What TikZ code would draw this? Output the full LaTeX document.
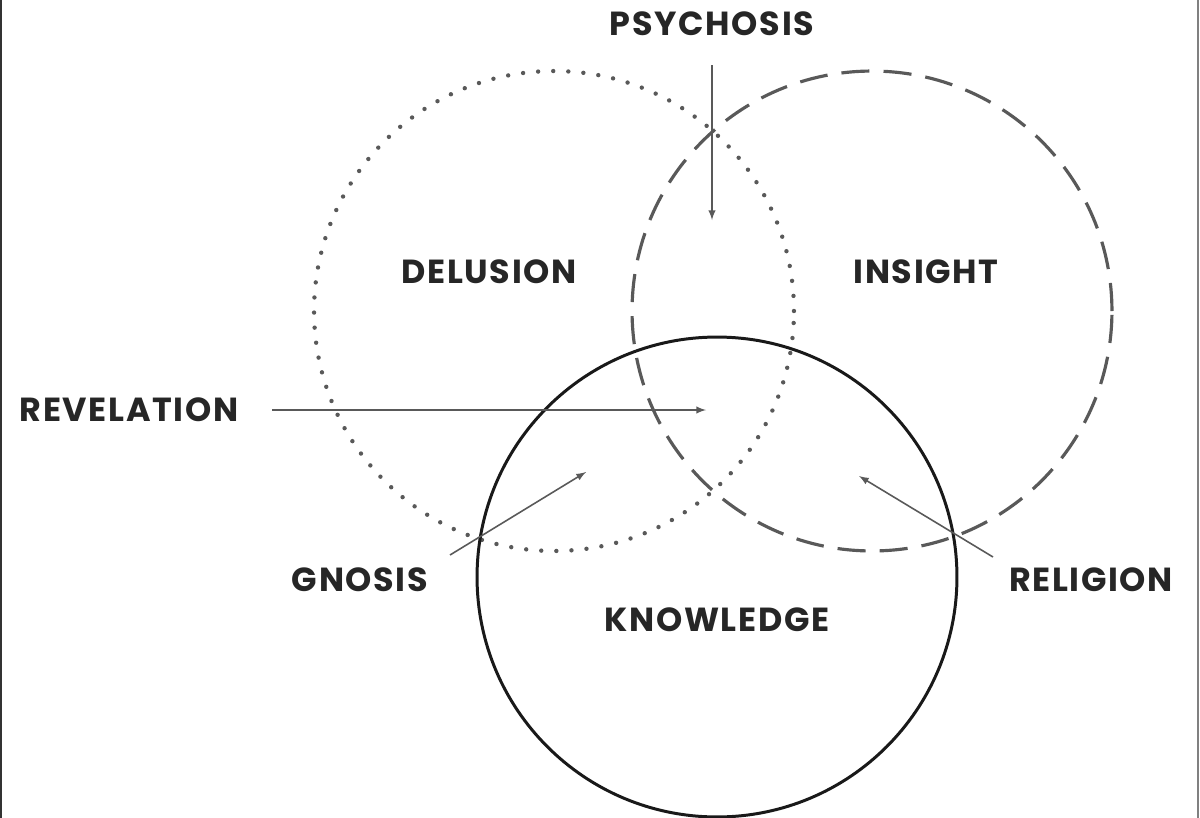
\documentclass[tikz,border=0pt]{standalone}
\usepackage{fontspec}
\setmainfont{Poppins}
\usetikzlibrary{arrows}

\begin{document}
\begin{tikzpicture}[x=0.02cm,y=-0.02cm,
  word/.style={font=\fontsize{19}{22}\selectfont\bfseries\addfontfeatures{LetterSpace=5}, text=black!85, inner sep=2pt},
  ring/.style={circle, minimum size=9.6cm, inner sep=0pt},
  pointer/.style={-latex, draw=black!65, line width=0.9pt}]

\useasboundingbox (0,0) rectangle (1200,818);
\draw[line width=1.2pt, draw=black!80] (1,0)--(1,818); % bord gauche
\draw[line width=1.2pt, draw=black!50] (1198,0)--(1198,818); % bord droit

% the three circles
\node[ring, draw=black!65, line width=2.5pt, line cap=round, dash pattern=on 0pt off 8.6pt] (delusion ring) at (554,311) {};
\node[ring, draw=black!65, line width=1.8pt, dash pattern=on 16pt off 8pt] (insight ring) at (872,311) {};
\node[ring, draw=black!90, line width=1.7pt] (knowledge ring) at (717,577) {};

\foreach \Name/\Pos/\Text in {psychosis/{(712,24)}/PSYCHOSIS, delusion/{(489,272)}/DELUSION,
    insight/{(926,272)}/INSIGHT, revelation/{(129,410)}/REVELATION, gnosis/{(360,580)}/GNOSIS,
    knowledge/{(717,620)}/KNOWLEDGE, religion/{(1091,580)}/RELIGION}{
    \node[word] (\Name) at \Pos {\Text};
}

\coordinate (psychosis tip) at (712,220);
\coordinate (revelation tip) at (706,410);
\coordinate (gnosis tail) at (450,555);
\coordinate (gnosis tip) at (586,472);
\coordinate (religion tail) at (993,557);
\coordinate (religion tip) at (859,476);

\draw[pointer] (psychosis.south |- 0,65) -- (psychosis tip);
\draw[pointer] (revelation.east -| 272,0) -- (revelation tip);
\draw[pointer] (gnosis tail) -- (gnosis tip);
\draw[pointer] (religion tail) -- (religion tip);
\end{tikzpicture}
\end{document}
